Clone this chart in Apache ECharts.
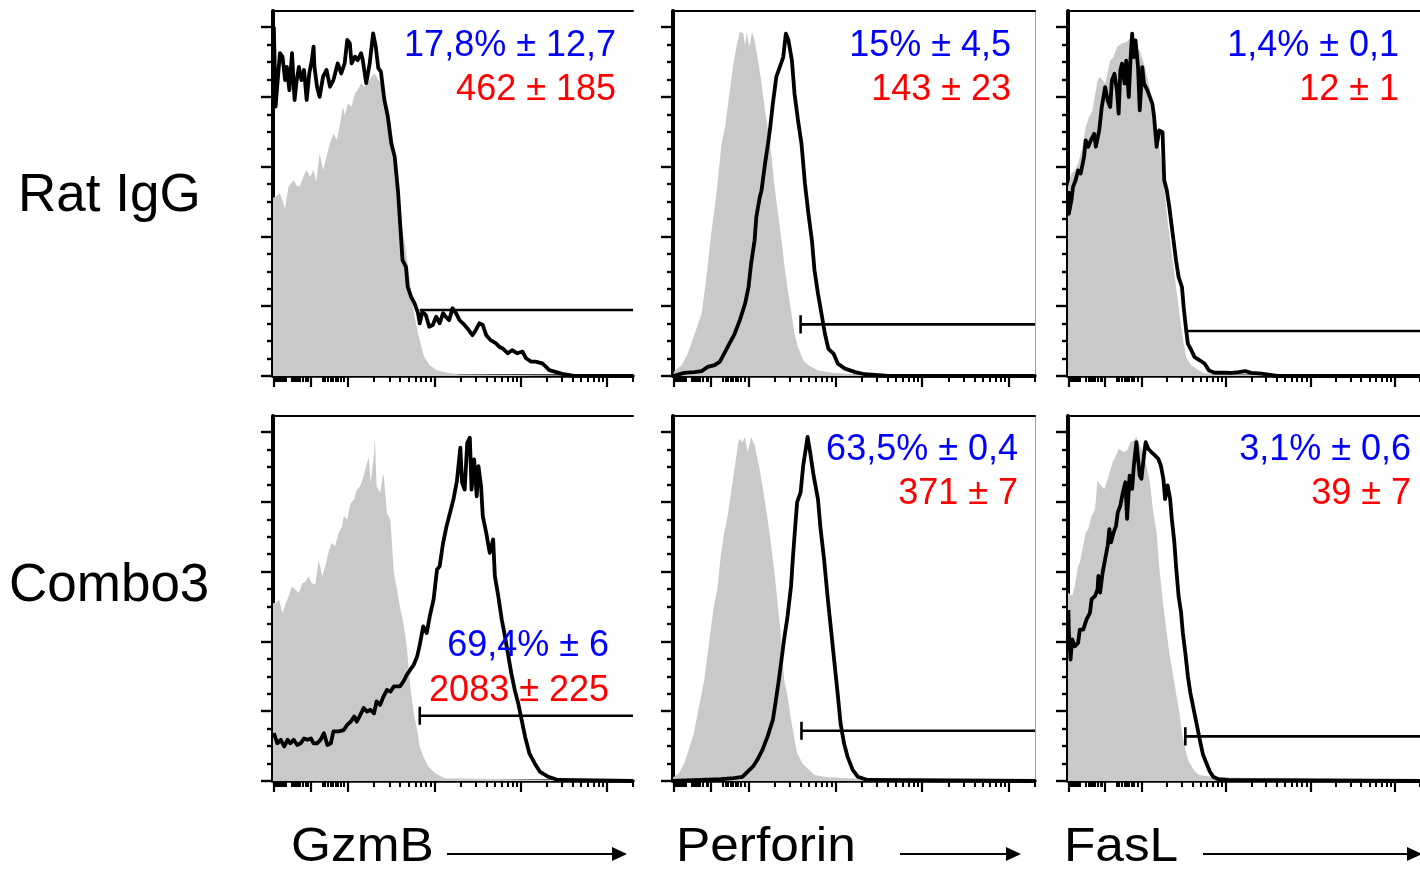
<!DOCTYPE html>
<html><head><meta charset="utf-8">
<script src="https://cdn.jsdelivr.net/npm/echarts@6/dist/echarts.min.js"></script>
<style>html,body{margin:0;padding:0;background:#fff}#c{width:1420px;height:876px}</style>
</head><body><div id="c"></div><script>
// ---------------- data ----------------
const markers = ['GzmB', 'Perforin', 'FasL'];
const groups = ['Rat IgG', 'Combo3'];
const pctText = [['17,8% ± 12,7', '15% ± 4,5', '1,4% ± 0,1'], ['69,4% ± 6', '63,5% ± 0,4', '3,1% ± 0,6']];
const mfiText = [['462 ± 185', '143 ± 23', '12 ± 1'], ['2083 ± 225', '371 ± 7', '39 ± 7']];

// x = log10 fluorescence (display scale), y = % of mode ; flat [x,y,x,y,...]
const isoGzmBRat = [1.13,51.0, 1.15,51.4, 1.21,52.3, 1.27,48.0, 1.31,54.3, 1.37,56.2, 1.40,54.7, 1.44,54.3, 1.48,57.1, 1.52,59.0, 1.56,57.1, 1.60,59.0, 1.63,55.7, 1.67,63.8, 1.71,59.0, 1.75,62.8, 1.79,66.7, 1.83,69.5, 1.87,67.6, 1.90,71.4, 1.94,77.2, 1.96,74.8, 2.00,78.1, 2.04,77.2, 2.08,81.0, 2.11,81.9, 2.15,83.9, 2.19,82.9, 2.23,83.9, 2.27,85.8, 2.31,86.7, 2.35,84.8, 2.38,83.9, 2.42,79.1, 2.46,77.2, 2.50,71.4, 2.54,63.8, 2.58,54.3, 2.61,44.7, 2.65,39.0, 2.69,32.3, 2.73,23.7, 2.77,17.0, 2.81,12.2, 2.85,8.4, 2.88,5.5, 2.94,3.2, 3.02,1.7, 3.13,1.0, 3.29,0.4, 5.30,0];
const stainGzmBRat = [1.14,100.1, 1.16,77.2, 1.21,92.5, 1.24,91.5, 1.27,84.8, 1.29,88.6, 1.32,81.9, 1.35,92.5, 1.38,79.1, 1.40,83.9, 1.43,88.6, 1.46,84.8, 1.49,87.7, 1.52,79.1, 1.55,86.7, 1.58,90.5, 1.60,94.4, 1.61,88.6, 1.64,82.9, 1.67,80.0, 1.71,85.8, 1.75,87.7, 1.79,82.9, 1.83,84.8, 1.88,89.6, 1.92,86.7, 1.96,89.6, 1.99,96.3, 2.02,95.3, 2.04,89.6, 2.08,91.5, 2.11,90.5, 2.15,92.5, 2.17,90.5, 2.21,83.9, 2.25,89.6, 2.29,98.2, 2.32,94.4, 2.35,88.2, 2.38,87.2, 2.42,79.1, 2.46,74.3, 2.50,66.7, 2.54,62.8, 2.58,52.3, 2.61,40.9, 2.63,33.2, 2.67,31.3, 2.69,25.6, 2.73,22.7, 2.77,20.8, 2.81,18.0, 2.83,15.1, 2.86,18.4, 2.90,17.5, 2.94,14.1, 2.98,14.6, 3.02,17.0, 3.06,15.1, 3.10,18.0, 3.13,17.0, 3.17,16.0, 3.21,19.4, 3.25,18.0, 3.29,16.0, 3.33,15.1, 3.38,13.7, 3.44,11.7, 3.48,13.2, 3.52,15.1, 3.56,14.6, 3.60,11.7, 3.65,10.3, 3.71,9.4, 3.75,8.4, 3.79,7.9, 3.85,6.5, 3.90,7.4, 3.96,6.5, 4.02,7.0, 4.06,5.1, 4.12,4.1, 4.17,4.1, 4.25,3.6, 4.29,2.7, 4.33,1.7, 4.40,1.2, 4.48,0.6, 4.60,0.1, 5.30,0];
const isoPerfRat = [1.13,0.5, 1.14,0.7, 1.15,1.6, 1.23,3.1, 1.30,6.4, 1.38,12.1, 1.46,17.9, 1.51,27.4, 1.57,40.8, 1.63,52.2, 1.69,66.6, 1.73,71.3, 1.78,80.9, 1.82,88.5, 1.86,94.3, 1.90,98.6, 1.94,98.2, 1.96,94.7, 1.98,98.6, 2.01,94.3, 2.04,98.6, 2.07,96.2, 2.11,90.4, 2.15,83.8, 2.19,76.1, 2.25,66.6, 2.30,54.2, 2.34,46.5, 2.38,38.9, 2.42,30.3, 2.46,23.6, 2.50,16.9, 2.53,12.1, 2.57,8.3, 2.63,4.5, 2.69,3.1, 2.80,1.6, 2.96,0.9, 3.23,0.5, 5.30,0];
const stainPerfRat = [1.13,0, 1.26,0.9, 1.38,1.1, 1.46,1.4, 1.53,2.6, 1.61,3.1, 1.67,4.1, 1.73,6.9, 1.78,9.3, 1.84,12.1, 1.90,16.0, 1.96,20.7, 2.00,25.5, 2.03,32.2, 2.07,38.9, 2.09,45.6, 2.13,51.3, 2.15,53.2, 2.19,60.8, 2.23,67.5, 2.25,71.3, 2.28,78.0, 2.32,85.7, 2.36,88.5, 2.40,91.4, 2.43,98.1, 2.46,96.2, 2.50,90.4, 2.53,80.9, 2.57,73.3, 2.61,66.6, 2.65,55.1, 2.69,46.5, 2.73,38.9, 2.76,30.3, 2.80,23.6, 2.84,17.9, 2.88,12.1, 2.92,7.8, 2.98,6.4, 3.03,3.5, 3.11,2.1, 3.23,1.1, 3.34,0.5, 3.61,0, 5.30,0];
const isoFasLRat = [1.13,54.2, 1.14,54.2, 1.17,58.0, 1.21,58.9, 1.25,60.8, 1.30,65.6, 1.34,71.3, 1.38,74.2, 1.42,76.1, 1.48,84.7, 1.51,85.7, 1.57,83.8, 1.63,90.4, 1.67,91.4, 1.71,94.3, 1.76,95.2, 1.82,95.7, 1.88,97.1, 1.93,94.3, 1.98,93.3, 2.03,89.5, 2.07,85.7, 2.11,80.9, 2.15,77.1, 2.19,69.4, 2.23,62.8, 2.27,54.2, 2.30,46.5, 2.34,38.9, 2.38,31.2, 2.42,23.6, 2.46,16.0, 2.50,9.3, 2.53,5.4, 2.59,3.1, 2.65,2.1, 2.73,0.9, 2.84,0.5, 5.30,0];
const stainFasLRat = [1.135,53.0, 1.14,46.5, 1.17,50.3, 1.19,54.2, 1.22,56.1, 1.25,58.9, 1.28,58.0, 1.32,62.8, 1.34,67.5, 1.37,65.7, 1.40,67.5, 1.44,69.4, 1.46,65.7, 1.50,70.4, 1.53,77.1, 1.57,82.8, 1.60,79.0, 1.63,77.1, 1.65,84.7, 1.68,86.6, 1.71,81.9, 1.73,75.2, 1.75,87.6, 1.77,89.5, 1.80,83.8, 1.82,90.4, 1.85,79.9, 1.87,90.4, 1.89,98.1, 1.91,91.4, 1.93,96.2, 1.96,88.5, 1.98,76.1, 2.01,88.5, 2.03,83.8, 2.07,81.9, 2.09,81.9, 2.13,78.0, 2.15,74.2, 2.18,65.7, 2.21,70.4, 2.25,69.9, 2.27,56.1, 2.30,53.3, 2.33,48.4, 2.37,40.8, 2.41,33.1, 2.44,28.4, 2.48,25.5, 2.50,19.8, 2.53,13.1, 2.55,9.3, 2.59,7.4, 2.63,5.4, 2.69,4.5, 2.75,3.5, 2.80,1.6, 2.86,1.0, 3.07,0.9, 3.15,1.1, 3.23,1.4, 3.30,0.9, 3.42,0.7, 3.61,0, 5.30,0];
const isoGzmBCombo = [1.13,51.0, 1.16,51.0, 1.20,52.0, 1.24,48.1, 1.28,51.0, 1.31,52.9, 1.35,55.8, 1.39,54.8, 1.43,53.9, 1.47,56.7, 1.51,57.2, 1.54,58.7, 1.58,56.7, 1.62,56.3, 1.66,63.4, 1.70,58.7, 1.74,62.0, 1.78,66.3, 1.81,68.2, 1.85,67.3, 1.89,71.1, 1.93,73.0, 1.95,75.9, 1.99,74.9, 2.03,79.7, 2.07,80.7, 2.10,83.5, 2.14,84.5, 2.18,87.4, 2.22,91.2, 2.24,92.6, 2.26,85.5, 2.28,89.3, 2.30,94.1, 2.31,98.4, 2.33,84.5, 2.37,82.6, 2.41,88.3, 2.45,76.8, 2.49,74.9, 2.53,59.6, 2.56,55.8, 2.60,50.0, 2.64,45.3, 2.68,38.6, 2.72,27.1, 2.76,19.4, 2.80,14.6, 2.83,9.9, 2.87,7.0, 2.93,4.1, 3.01,2.2, 3.12,0.8, 5.30,0];
const stainGzmBCombo = [1.14,13.7, 1.18,10.8, 1.22,11.8, 1.26,9.9, 1.30,11.8, 1.33,10.8, 1.37,11.8, 1.41,10.3, 1.45,10.8, 1.49,12.2, 1.53,11.8, 1.57,12.2, 1.60,10.8, 1.64,10.8, 1.68,11.8, 1.72,13.7, 1.76,10.3, 1.80,10.8, 1.83,14.2, 1.89,14.2, 1.95,14.6, 1.99,16.1, 2.03,17.0, 2.07,18.5, 2.10,17.0, 2.14,18.9, 2.18,20.9, 2.22,19.9, 2.26,20.4, 2.30,19.4, 2.33,22.8, 2.37,21.8, 2.41,24.2, 2.45,26.1, 2.49,25.6, 2.53,27.1, 2.56,27.1, 2.60,27.1, 2.64,28.5, 2.68,30.4, 2.72,31.9, 2.76,33.3, 2.80,35.7, 2.83,39.0, 2.87,44.3, 2.91,42.4, 2.95,47.7, 2.99,52.0, 3.03,60.6, 3.06,61.5, 3.10,68.2, 3.14,73.0, 3.18,76.8, 3.22,80.7, 3.26,85.9, 3.30,95.5, 3.32,85.5, 3.35,83.5, 3.38,96.9, 3.41,98.4, 3.43,83.5, 3.46,92.2, 3.49,81.6, 3.51,90.2, 3.54,84.5, 3.56,75.9, 3.60,71.1, 3.64,65.4, 3.68,69.2, 3.70,58.7, 3.74,52.9, 3.78,46.2, 3.81,42.4, 3.85,36.7, 3.89,30.9, 3.93,26.1, 3.97,22.3, 4.01,17.5, 4.05,12.7, 4.10,7.9, 4.16,5.1, 4.22,2.7, 4.32,1.2, 4.43,0.3, 5.30,0];
const isoPerfCombo = [1.13,1.0, 1.14,1.2, 1.20,2.2, 1.26,5.1, 1.31,8.9, 1.37,13.7, 1.43,21.4, 1.49,29.1, 1.55,40.6, 1.60,50.1, 1.64,54.9, 1.68,64.5, 1.72,71.2, 1.76,76.0, 1.81,84.7, 1.85,91.4, 1.89,98.1, 1.93,97.1, 1.96,98.6, 1.99,94.2, 2.03,98.6, 2.07,96.2, 2.12,90.4, 2.16,84.7, 2.22,75.1, 2.26,67.4, 2.30,59.7, 2.33,52.1, 2.37,42.5, 2.41,29.1, 2.45,24.3, 2.49,17.5, 2.53,11.8, 2.56,8.0, 2.62,5.1, 2.68,3.6, 2.76,1.7, 2.91,1.1, 3.22,0.7, 5.30,0];
const stainPerfCombo = [1.13,0, 1.68,0.5, 1.83,0.8, 1.93,1.2, 1.99,2.7, 2.05,4.1, 2.10,6.0, 2.16,8.9, 2.22,12.8, 2.28,17.5, 2.31,22.3, 2.35,29.1, 2.39,36.7, 2.41,40.6, 2.45,47.3, 2.49,55.9, 2.51,63.6, 2.53,70.3, 2.56,79.9, 2.60,82.7, 2.63,90.4, 2.66,95.2, 2.68,98.6, 2.71,94.2, 2.75,87.5, 2.80,80.8, 2.83,72.2, 2.87,63.6, 2.91,53.0, 2.95,43.4, 2.99,33.8, 3.03,24.3, 3.06,16.6, 3.10,10.8, 3.14,7.0, 3.20,3.2, 3.26,1.2, 3.37,0.3, 5.30,0];
const isoFasLCombo = [1.13,54.0, 1.15,54.0, 1.18,53.0, 1.21,55.9, 1.25,61.6, 1.27,62.6, 1.31,67.4, 1.34,71.2, 1.37,72.2, 1.41,76.0, 1.45,77.9, 1.48,86.1, 1.52,84.7, 1.56,83.7, 1.60,86.6, 1.66,91.4, 1.70,93.3, 1.73,95.2, 1.79,94.2, 1.83,94.7, 1.87,97.1, 1.91,97.6, 1.94,98.6, 1.98,96.2, 2.02,94.2, 2.06,90.4, 2.10,85.6, 2.14,77.0, 2.18,71.2, 2.21,61.6, 2.25,52.1, 2.29,44.4, 2.33,36.7, 2.37,31.0, 2.41,25.2, 2.45,19.5, 2.48,13.7, 2.52,8.9, 2.56,5.6, 2.62,3.2, 2.68,1.7, 2.83,1.2, 3.06,1.0, 3.37,0.8, 3.48,0.3, 5.30,0];
const stainFasLCombo = [1.135,49.0, 1.14,42.5, 1.16,34.8, 1.18,40.6, 1.21,38.6, 1.25,39.6, 1.27,43.4, 1.31,43.4, 1.35,46.3, 1.39,48.2, 1.41,52.1, 1.45,53.0, 1.48,54.9, 1.49,58.8, 1.51,54.0, 1.54,59.7, 1.57,63.6, 1.60,67.4, 1.62,72.2, 1.64,68.4, 1.67,71.2, 1.70,73.2, 1.72,77.0, 1.75,78.9, 1.78,82.7, 1.81,85.6, 1.83,75.1, 1.86,87.5, 1.89,83.7, 1.91,90.4, 1.94,97.1, 1.98,87.5, 2.00,86.6, 2.03,93.3, 2.05,97.1, 2.08,95.2, 2.12,94.2, 2.16,93.3, 2.20,92.3, 2.23,90.4, 2.26,86.6, 2.28,80.8, 2.31,84.7, 2.34,80.8, 2.36,75.1, 2.39,68.4, 2.41,61.6, 2.44,53.0, 2.47,48.2, 2.49,42.5, 2.52,36.7, 2.55,30.0, 2.58,25.2, 2.62,20.4, 2.66,15.6, 2.70,10.8, 2.73,7.5, 2.77,5.1, 2.81,2.7, 2.85,1.2, 2.91,0.5, 3.02,0.3, 5.30,0];

// gates: [start x, level y, show start tick]
const gatesRat = [[2.83, 18.9, 0], [2.60, 14.8, 1], [2.55, 12.9, 0]];
const gatesCombo = [[2.83, 18.7, 1], [2.61, 14.4, 1], [2.52, 12.8, 1]];

// axis ticks
const xMajorTicks = [1.14, 1.57, 2, 3, 4, 5];
const xLinearMinorTicks = [1.157, 1.18, 1.203, 1.226, 1.249, 1.272, 1.342, 1.373, 1.396, 1.419, 1.442, 1.477, 1.515, 1.535, 1.708, 1.735, 1.766, 1.797, 1.824, 1.855, 1.881, 1.913, 1.951];
const logDecades = [2, 3, 4];
const lastMinorTick = 5.30;
const yMajorTicks = [0, 20, 40, 60, 80, 100];
const yMinorTicks = [5, 10, 15, 25, 30, 35, 45, 50, 55, 65, 70, 75, 85, 90, 95];

// ---------------- build ----------------
const isoData = [[isoGzmBRat, isoPerfRat, isoFasLRat], [isoGzmBCombo, isoPerfCombo, isoFasLCombo]];
const stainData = [[stainGzmBRat, stainPerfRat, stainFasLRat], [stainGzmBCombo, stainPerfCombo, stainFasLCombo]];
const gates = [gatesRat, gatesCombo];
const pairs = a => { const o = []; for (let i = 0; i < a.length; i += 2) o.push([a[i], a[i + 1]]); return o; };
const xMinorTicks = xLinearMinorTicks.slice();
logDecades.forEach(d => { for (let k = 2; k <= 9; k++) xMinorTicks.push(+(d + Math.log10(k)).toFixed(4)); });
xMinorTicks.push(lastMinorTick);

const FONT = '"Liberation Sans", Arial, sans-serif';
const X_MIN = 1.13, X_MAX = 5.30, Y_MAX = 104.6;
const gridLefts = [273, 673, 1068], gridWidths = [360, 362, 360], gridTops = [11, 416], gridH = 365;

const grid = [], xAxis = [], yAxis = [], series = [];
const blk = '#000';
let gi = 0;
for (let r = 0; r < 2; r++) {
  for (let c = 0; c < 3; c++) {
    grid.push({ left: gridLefts[c], top: gridTops[r], width: gridWidths[c], height: gridH, containLabel: false });
    const xMain = xAxis.length;
    const baseX = { gridIndex: gi, type: 'value', min: X_MIN, max: X_MAX, axisLabel: { show: false }, splitLine: { show: false } };
    xAxis.push(Object.assign({}, baseX, { position: 'bottom', axisLine: { show: true, onZero: false, lineStyle: { color: blk, width: 3.5 } },
      axisTick: { show: true, customValues: xMajorTicks, length: 11, lineStyle: { color: blk, width: 2.2 } } }));
    xAxis.push(Object.assign({}, baseX, { position: 'bottom', axisLine: { show: false, onZero: false },
      axisTick: { show: true, customValues: xMinorTicks, length: 6, lineStyle: { color: blk, width: 2 } } }));
    xAxis.push(Object.assign({}, baseX, { position: 'top', axisLine: { show: true, onZero: false, lineStyle: { color: blk, width: 2 } }, axisTick: { show: false } }));
    const yMain = yAxis.length;
    const baseY = { gridIndex: gi, type: 'value', min: 0, max: Y_MAX, axisLabel: { show: false }, splitLine: { show: false } };
    yAxis.push(Object.assign({}, baseY, { position: 'left', axisLine: { show: true, onZero: false, lineStyle: { color: blk, width: 4 } },
      axisTick: { show: true, customValues: yMajorTicks, length: 12, lineStyle: { color: blk, width: 2.4 } } }));
    yAxis.push(Object.assign({}, baseY, { position: 'left', axisLine: { show: false, onZero: false },
      axisTick: { show: true, customValues: yMinorTicks, length: 6, lineStyle: { color: blk, width: 2.4 } } }));
    if (c === 1) {
      yAxis.push(Object.assign({}, baseY, { position: 'right', axisLine: { show: true, onZero: false, lineStyle: { color: '#a0a0a0', width: 1 } }, axisTick: { show: false } }));
    }
    series.push({ type: 'line', xAxisIndex: xMain, yAxisIndex: yMain, data: pairs(isoData[r][c]), symbol: 'none', silent: true,
      lineStyle: { width: 0, opacity: 0 }, areaStyle: { color: '#c9c9c9', opacity: 1 }, z: 1 });
    series.push({ type: 'line', xAxisIndex: xMain, yAxisIndex: yMain, data: pairs(stainData[r][c]), symbol: 'none', silent: true, clip: false,
      lineStyle: { color: blk, width: 3.8, join: 'round' }, z: 3 });
    const g = gates[r][c];
    const gdata = g[2] ? [[g[0], g[1] + 2.6], [g[0], g[1] - 2.6], [g[0], g[1]], [X_MAX, g[1]]] : [[g[0], g[1]], [X_MAX, g[1]]];
    series.push({ type: 'line', xAxisIndex: xMain, yAxisIndex: yMain, data: gdata, symbol: 'none', silent: true, clip: false,
      lineStyle: { color: blk, width: 2.6 }, z: 4 });
    gi++;
  }
}

// annotation layout
const annoRight = [[616, 1011, 1399], [609, 1018, 1411]];
const annoY = [[[46, 90], [46, 90], [46, 90]], [[646, 691], [450, 494], [450, 494]]];
const graphic = [];
const txt = (text, x, y, size, color, align, extra) => Object.assign({ type: 'text', x, y, z: 100, silent: true,
  style: { text, fill: color, font: size + 'px ' + FONT, align, verticalAlign: 'middle', textAlign: align, textVerticalAlign: 'middle' } }, extra || {});
for (let r = 0; r < 2; r++) for (let c = 0; c < 3; c++) {
  graphic.push(txt(pctText[r][c], annoRight[r][c], annoY[r][c][0], 36, '#0000ff', 'right'));
  graphic.push(txt(mfiText[r][c], annoRight[r][c], annoY[r][c][1], 36, '#ff0000', 'right'));
}
graphic.push(txt(groups[0], 18, 196, 53, '#000', 'left'));
graphic.push(txt(groups[1], 9, 586, 53, '#000', 'left'));
const markerX = [291, 676, 1064];
markers.forEach((m, i) => graphic.push(txt(m, markerX[i], 848, 48, '#000', 'left', { scaleX: 1.07, originX: 0, originY: 0 })));
const arrows = [[447, 627], [900, 1021], [1203, 1422]];
arrows.forEach(a => {
  graphic.push({ type: 'line', z: 100, silent: true, shape: { x1: a[0], y1: 854, x2: a[1] - 12, y2: 854 }, style: { stroke: '#000', lineWidth: 2 } });
  graphic.push({ type: 'polygon', z: 100, silent: true, shape: { points: [[a[1], 854], [a[1] - 15, 847], [a[1] - 15, 861]] }, style: { fill: '#000' } });
});

const chart = echarts.init(document.getElementById('c'), null, { renderer: 'canvas' });
chart.setOption({ animation: false, backgroundColor: '#fff', grid, xAxis, yAxis, series, graphic });
</script></body></html>
